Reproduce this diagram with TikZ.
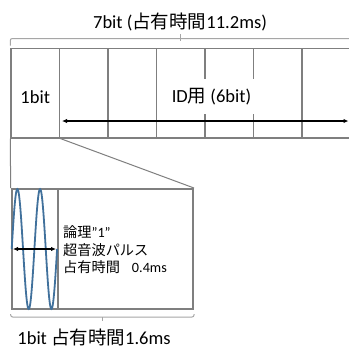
\documentclass[tikz,border=0pt]{standalone}
\usepackage{fontspec}
\setmainfont{Carlito}
\newfontfamily\jp{Noto Sans CJK JP}
\usetikzlibrary{arrows.meta}
\definecolor{frame}{HTML}{7F7F7F}
\definecolor{brace}{HTML}{A6A6A6}
\definecolor{wave}{HTML}{41719C}
\tikzset{
  cell/.style={draw=frame,line width=1.5pt,minimum width=48.5pt,minimum height=89.5pt,inner sep=0pt},
  slot/.style={draw=frame,line width=2pt,minimum height=120pt,inner sep=0pt},
  span/.style={draw=brace,line width=1pt,rounded corners=2pt},
  dimarr/.style={{Latex[length=5pt,width=4.5pt]}-{Latex[length=5pt,width=4.5pt]},line width=1.2pt},
}
\begin{document}
\begin{tikzpicture}[x=1pt,y=-1pt,font=\fontsize{18.5}{22}\selectfont]
\useasboundingbox[fill=white] (0,0) rectangle (349,349);
% 7bit frame
\node[cell] (b0) at (35.25,93) {};
\node[cell] (b1) at (83.75,93) {};
\node[cell] (b2) at (132.25,93) {};
\node[cell] (b3) at (180.75,93) {};
\node[cell] (b4) at (229.25,93) {};
\node[cell] (b5) at (277.75,93) {};
\node[cell] (b6) at (326.25,93) {};
\node[anchor=base] (first) at (35.25,103.3) {1bit};
\node[fill=white,inner sep=3pt,minimum height=35pt] (idlbl) at (211.5,96.5) {ID{\jp 用} (6bit)};
\coordinate (idA) at (62,121);
\coordinate (idB) at (348.5,121);
\draw[dimarr] (idA) -- (idB);
% brace over the frame
\node[anchor=base] (title) at (180,28.3) {7bit ({\jp 占有時間}11.2ms)};
\draw[span] ([yshift=2pt]b0.north west) -- ++(0,-7) -| ([yshift=2pt]b6.north east);
\draw[span] (title.south) -- (title.south |- 0,41);
% one bit, enlarged
\node[slot,minimum width=181.3pt] (pulse) at (102.35,249) {};
\node[slot,minimum width=46.6pt] (burst) at (35,249) {};
\draw[frame,line width=1pt] (b0.south west) -- (pulse.north west);
\draw[frame,line width=1pt] (b0.south east) -- (pulse.north east);
\draw[wave,line width=1.8pt] plot[domain=0:720,samples=121] ({11.7+\x/720*45.4},{249-60*sin(\x)});
\coordinate (pwA) at (13,249);
\coordinate (pwB) at (56,249);
\draw[dimarr] (pwA) -- (pwB);
\node[anchor=west,align=left,inner sep=0pt,font=\fontsize{14.2}{17.5}\selectfont] (note) at (63,250)
  {{\jp 論理}”1”\\{\jp 超音波パルス}\\{\jp 占有時間}\hspace{12pt}0.4ms};
% brace under the bit
\draw[span] (pulse.south west) ++(0,4) -- ++(0,3) -| ([yshift=-4pt]pulse.south east);
\draw[span] (pulse.south) ++(0,7) -- ++(0,4);
\node[anchor=base] (bitlen) at (94,344) {1bit {\jp 占有時間}1.6ms};
\end{tikzpicture}
\end{document}
